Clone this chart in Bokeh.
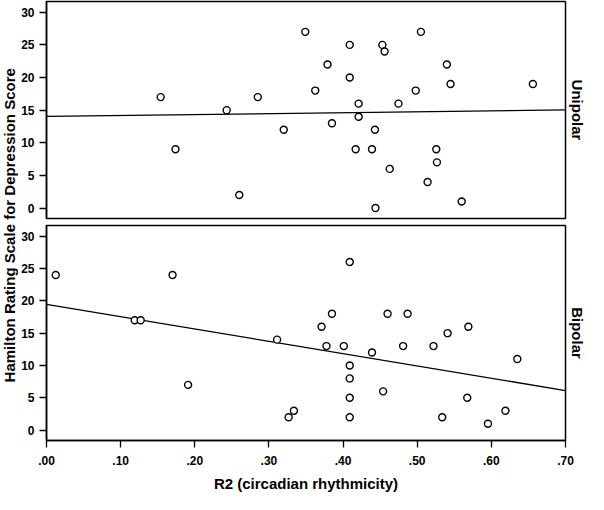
import math
from bokeh.plotting import figure
from bokeh.layouts import row, column
from bokeh.models import Label, FixedTicker, Range1d, LinearAxis
from bokeh.embed import file_html
from bokeh.resources import INLINE

# ---- data ----
uni_x = [0.154, 0.174, 0.243, 0.260, 0.285, 0.320, 0.349, 0.409, 0.453, 0.456, 0.505,
         0.379, 0.540, 0.409, 0.3625, 0.545, 0.498, 0.656, 0.421, 0.4747, 0.421, 0.385,
         0.443, 0.417, 0.439, 0.5257, 0.5266, 0.463, 0.514, 0.560, 0.4437]
uni_y = [17, 9, 15, 2, 17, 12, 27, 25, 25, 24, 27, 22, 22, 20, 18, 19, 18, 19, 16, 16,
         14, 13, 12, 9, 9, 9, 7, 6, 4, 1, 0]
bip_x = [0.0125, 0.170, 0.119, 0.127, 0.191, 0.311, 0.3266, 0.3337, 0.409, 0.385, 0.460,
         0.487, 0.371, 0.569, 0.541, 0.3776, 0.401, 0.481, 0.522, 0.439, 0.635, 0.409,
         0.409, 0.454, 0.409, 0.5675, 0.619, 0.409, 0.5337, 0.5954]
bip_y = [24, 24, 17, 17, 7, 14, 2, 3, 26, 18, 18, 18, 16, 16, 15, 13, 13, 13, 13, 12, 11,
         10, 8, 6, 5, 5, 3, 2, 2, 1]
# fitted lines
fit_x = [0.0, 0.7]
uni_fit_y = [14.05, 15.03]
bip_fit_y = [19.45, 6.13]

y_ticks = [0, 5, 10, 15, 20, 25, 30]
x_ticks = [0.0, 0.1, 0.2, 0.3, 0.4, 0.5, 0.6, 0.7]
x_tick_labels = [".00", ".10", ".20", ".30", ".40", ".50", ".60", ".70"]
panel_names = ["Unipolar", "Bipolar"]
x_title = "R2 (circadian rhythmicity)"
y_title = "Hamilton Rating Scale for Depression Score"

FONT = "Liberation Sans"


def style_panel(p):
    p.background_fill_color = "white"
    p.border_fill_color = "white"
    p.outline_line_color = "black"
    p.outline_line_width = 1.5
    p.xgrid.visible = False
    p.ygrid.visible = False
    ax = p.yaxis[0]
    ax.ticker = FixedTicker(ticks=y_ticks)
    ax.minor_tick_line_color = None
    ax.major_tick_in = 0
    ax.major_tick_out = 7
    ax.major_tick_line_width = 1.3
    ax.axis_line_width = 1.5
    ax.axis_line_color = "black"
    ax.major_label_text_font = FONT
    ax.major_label_text_font_style = "bold"
    ax.major_label_text_font_size = "12px"
    ax.major_label_text_color = "black"
    ax.major_label_standoff = 5


def make_panel(xs, ys, fy, name, height, mb_top, mb_bottom, show_x):
    p = figure(width=570, height=height, output_backend="svg", toolbar_location=None,
               x_range=Range1d(0, 0.7), y_range=Range1d(-1.6, 31.65),
               x_axis_location="below" if show_x else None,
               min_border_left=27, min_border_right=23,
               min_border_top=mb_top, min_border_bottom=mb_bottom)
    style_panel(p)
    p.line(fit_x, fy, line_color="black", line_width=1.3)
    p.scatter(xs, ys, marker="circle", size=7, line_color="black", line_width=1.4,
              fill_color="white")
    rax = LinearAxis(ticker=FixedTicker(ticks=[]), axis_line_color=None,
                     major_tick_line_color=None, minor_tick_line_color=None,
                     major_label_text_font_size="0px",
                     axis_label=name, axis_label_standoff=3,
                     axis_label_text_font=FONT, axis_label_text_font_style="bold",
                     axis_label_text_font_size="15px", axis_label_text_color="black")
    p.add_layout(rax, "right")
    if show_x:
        ax = p.xaxis[0]
        ax.ticker = FixedTicker(ticks=x_ticks)
        ax.major_label_overrides = {t: l for t, l in zip(x_ticks, x_tick_labels)}
        ax.minor_tick_line_color = None
        ax.major_tick_in = 0
        ax.major_tick_out = 7
        ax.major_tick_line_width = 1.3
        ax.axis_line_width = 1.5
        ax.axis_line_color = "black"
        ax.major_label_text_font = FONT
        ax.major_label_text_font_style = "bold"
        ax.major_label_text_font_size = "12px"
        ax.major_label_text_color = "black"
        ax.major_label_standoff = 8
        ax.axis_label = x_title
        ax.axis_label_text_font = FONT
        ax.axis_label_text_font_style = "bold"
        ax.axis_label_text_font_size = "15px"
        ax.axis_label_text_color = "black"
        ax.axis_label_standoff = 7
    return p


top = make_panel(uni_x, uni_y, uni_fit_y, panel_names[0], 221, 1, 3, False)
bot = make_panel(bip_x, bip_y, bip_fit_y, panel_names[1], 273, 4, 52, True)

lab = figure(width=18, height=494, output_backend="svg", toolbar_location=None,
             x_range=Range1d(0, 1), y_range=Range1d(0, 1),
             x_axis_location=None, y_axis_location=None,
             min_border=0, outline_line_color=None)
lab.xgrid.visible = False
lab.ygrid.visible = False
lab.add_layout(Label(x=0.5, y=0.545, text=y_title, angle=math.pi / 2,
                     text_align="center", text_baseline="middle",
                     text_font=FONT, text_font_style="bold",
                     text_font_size="15px", text_color="black"))

layout = row(lab, column(top, bot, spacing=0), spacing=0)

open("out.html", "w").write(file_html(layout, INLINE))
